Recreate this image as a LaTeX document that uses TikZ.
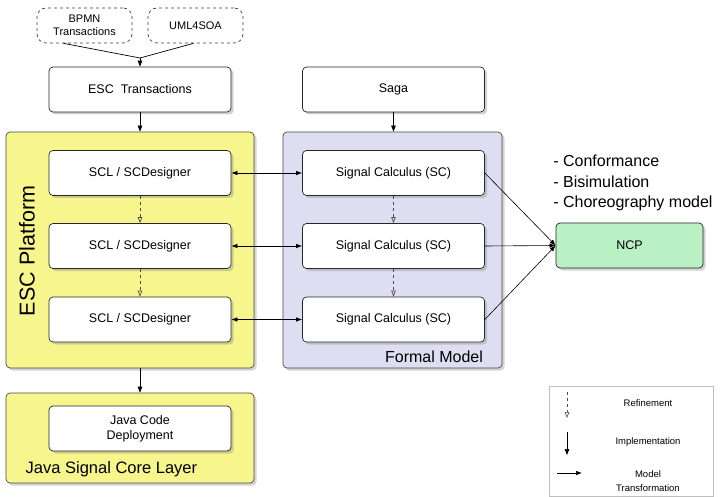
\documentclass[tikz,border=0pt]{standalone}
\usepackage{fontspec}
\setmainfont{Liberation Sans}
\usetikzlibrary{arrows.meta,shadows}
\definecolor{platyellow}{HTML}{F6F68C}
\definecolor{formalblue}{HTML}{DEDEF2}
\definecolor{ncpgreen}{HTML}{B9F0C4}
\definecolor{edgegray}{HTML}{4A4A4A}

\begin{document}
\begin{tikzpicture}[x=1pt,y=-1pt,line width=0.7pt,
  shade/.style={drop shadow={shadow xshift=2.5pt,shadow yshift=-2.5pt,opacity=0.35}},
  layer/.style={draw=edgegray, rounded corners=4pt, shade},
  block/.style={draw=black!85, fill=white, rounded corners=4pt, shade,
    minimum width=182pt, minimum height=45pt, align=center,
    font=\fontsize{12.5}{15}\selectfont},
  source/.style={draw=black!75, dashed, rounded corners=9pt,
    minimum width=95pt, minimum height=35pt, align=center,
    font=\fontsize{11}{13}\selectfont},
  impl/.style={-{Triangle[length=6pt,width=4.5pt]}, black},
  refine/.style={dashed, black!70, -{Triangle[open,length=6pt,width=4.5pt]}},
  transf/.style={-{Latex[length=6pt,width=4.5pt]}, black},
  both/.style={{Latex[length=6pt,width=4.5pt]}-{Latex[length=6pt,width=4.5pt]}, black},
  legendtext/.style={align=center, font=\fontsize{9.5}{14}\selectfont}
]
  \useasboundingbox (0,0) rectangle (720,497);

  \node[layer, fill=platyellow, minimum width=248pt, minimum height=236pt] (esc) at (130,250) {};
  \node[layer, fill=formalblue, minimum width=219pt, minimum height=236pt] (formal) at (392.5,250) {};
  \node[layer, fill=platyellow, minimum width=248pt, minimum height=90pt] (javalayer) at (130,438) {};

  \node[rotate=90, font=\fontsize{21.5}{24}\selectfont] (esclabel) at (27,251) {ESC Platform};
  \node[font=\fontsize{16}{18}\selectfont] (formallabel) at (434,357) {Formal Model};
  \node[anchor=west, font=\fontsize{16.5}{18}\selectfont] (javalabel) at (22,469) {Java Signal Core Layer};

  \node[source] (bpmn) at (84.5,25.5) {BPMN\\Transactions};
  \node[source] (uml) at (195.5,25.5) {UML4SOA};
  \coordinate (merge) at (140,58);

  \node[block] (esctrans) at (140,89.5) {ESC\ \ Transactions};
  \node[block] (saga) at (393.5,89.5) {Saga};

  \node[block] (scl1) at (140,173) {SCL / SCDesigner};
  \node[block] (scl2) at (140,246) {SCL / SCDesigner};
  \node[block] (scl3) at (140,319.5) {SCL / SCDesigner};
  \node[block] (sc1) at (393.5,173) {Signal Calculus (SC)};
  \node[block] (sc2) at (393.5,246) {Signal Calculus (SC)};
  \node[block] (sc3) at (393.5,319.5) {Signal Calculus (SC)};

  \node[block] (javacode) at (140,428.5) {Java Code\\Deployment};

  \node[block, fill=ncpgreen, minimum width=147pt] (ncp) at (629.5,245.5) {NCP};
  \node[anchor=north west, inner sep=0pt, align=left,
    font=\fontsize{16}{20.5}\selectfont] (checks) at (553,155)
    {- Conformance\\- Bisimulation\\- Choreography model};

  \draw ([xshift=-21pt]bpmn.south) -- (merge);
  \draw ([xshift=-2pt]uml.south) -- (merge);
  \draw[impl] (merge) -- (esctrans.north);
  \draw[impl] (esctrans.south) -- (esc.north -| esctrans.south);
  \draw[impl] (saga.south) -- (formal.north -| saga.south);
  \draw[impl] (esc.south -| scl3.south) -- (javalayer.north -| scl3.south);

  \draw[refine] (scl1.south) -- (scl2.north);
  \draw[refine] (scl2.south) -- (scl3.north);
  \draw[refine] (sc1.south) -- (sc2.north);
  \draw[refine] (sc2.south) -- (sc3.north);

  \draw[both] (scl1.east) -- (sc1.west);
  \draw[both] (scl2.east) -- (sc2.west);
  \draw[both] (scl3.east) -- (sc3.west);

  \draw[transf, line width=0.6pt] (sc1.east) -- (ncp.west);
  \draw[transf, line width=0.6pt] (sc2.east) -- (ncp.west);
  \draw[transf, line width=0.6pt] (sc3.east) -- (ncp.west);

  \draw[black!25, line width=0.6pt] (549,386) rectangle (713,496);
  \coordinate (refa) at (567,392);
  \coordinate (refb) at (567,418);
  \coordinate (impa) at (567,432);
  \coordinate (impb) at (567,455);
  \coordinate (tra) at (557,473);
  \coordinate (trb) at (582,473);
  \draw[refine, line width=0.6pt] (refa) -- (refb);
  \draw[impl] (impa) -- (impb);
  \draw[transf, line width=0.6pt] (tra) -- (trb);
  \node[legendtext] (reflabel) at (648,403) {Refinement};
  \node[legendtext] (implabel) at (648,442) {Implementation};
  \node[legendtext] (tralabel) at (648,481) {Model\\Transformation};
\end{tikzpicture}
\end{document}
